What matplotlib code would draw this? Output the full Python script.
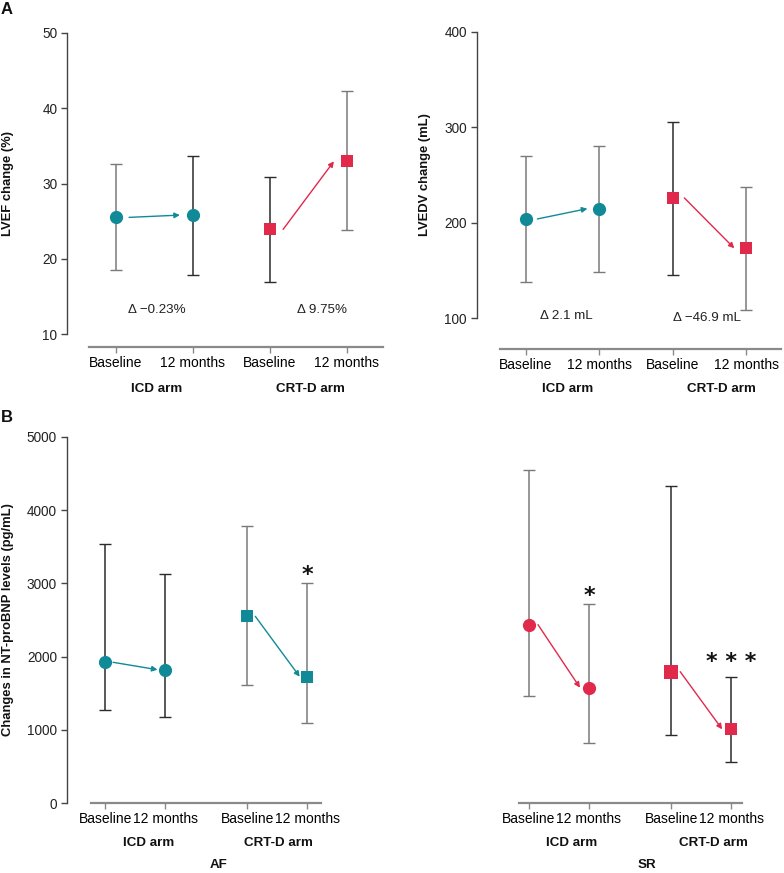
import matplotlib
matplotlib.use("Agg")
import matplotlib.pyplot as plt
from matplotlib.transforms import blended_transform_factory

plt.rcParams['font.family'] = ['Liberation Sans', 'DejaVu Sans']

# ---------------- data ----------------
timepoints = ["Baseline", "12 months", "Baseline", "12 months"]
arms = ["ICD arm", "CRT-D arm"]

lvef_mean = [25.5, 25.8, 23.9, 32.95]
lvef_upper = [32.55, 33.7, 30.8, 42.25]
lvef_lower = [18.5, 17.9, 16.95, 23.8]
lvef_delta = ["\u0394 \u22120.23%", "\u0394 9.75%"]

lvedv_mean = [204, 214.8, 226, 173.3]
lvedv_upper = [270, 280.7, 305.8, 237]
lvedv_lower = [137.7, 148.2, 145.4, 108.8]
lvedv_delta = ["\u0394 2.1 mL", "\u0394 \u221246.9 mL"]

af_mean = [1923, 1822, 2550, 1727]
af_upper = [3536, 3123, 3777, 3000]
af_lower = [1273, 1181, 1609, 1095]
af_sig = ["", "", "", "*"]

sr_mean = [2436, 1577, 1795, 1009]
sr_upper = [4549, 2722, 4327, 1718]
sr_lower = [1459, 822, 936, 559]
sr_sig = ["", "*", "", "* * *"]

# ---------------- style ----------------
TEAL = "#118a97"
RED = "#e0294b"
DARK = "#2b2b2b"
GRAY = "#7a7a7a"
W, H = 784, 873
fig = plt.figure(figsize=(W / 100, H / 100), dpi=100)


def make_ax(x0px, unit, xlim, ylim, ytop_px, ybot_px):
    left_px = x0px + xlim[0] * unit
    right_px = x0px + xlim[1] * unit
    ax = fig.add_axes([left_px / W, 1 - ybot_px / H,
                       (right_px - left_px) / W, (ybot_px - ytop_px) / H])
    ax.set_xlim(*xlim)
    ax.set_ylim(*ylim)
    ax.patch.set_alpha(0)
    for s in ["top", "right"]:
        ax.spines[s].set_visible(False)
    return ax


def draw_panel(ax, pos, mean, upper, lower, colors, markers, bar_colors,
               arrow_off, sizes):
    for i in range(4):
        ax.errorbar(pos[i], mean[i],
                    yerr=[[mean[i] - lower[i]], [upper[i] - mean[i]]],
                    fmt="none", ecolor=bar_colors[i], elinewidth=1.1,
                    capsize=4.2, capthick=1.0, zorder=2)
        ax.plot(pos[i], mean[i], marker=markers[i], color=colors[i],
                markersize=sizes[i], linestyle="none", zorder=3,
                markeredgewidth=0)
    for a, b in [(0, 1), (2, 3)]:
        ax.annotate("", xy=(pos[b] - arrow_off, mean[b]),
                    xytext=(pos[a] + arrow_off, mean[a]),
                    arrowprops=dict(arrowstyle="-|>", color=colors[b],
                                    lw=1.0, mutation_scale=8,
                                    shrinkA=0, shrinkB=0), zorder=4)


def style_axes(ax, pos, yticks, xbounds, outward_px, left=True):
    ax.set_xticks(pos)
    ax.set_xticklabels(timepoints, fontsize=9.5, color="#222222")
    ax.spines["bottom"].set_bounds(*xbounds)
    ax.spines["bottom"].set_position(("outward", outward_px * 0.72))
    ax.spines["bottom"].set_color("#8a8a8a")
    ax.spines["bottom"].set_linewidth(1.6)
    ax.tick_params(axis="x", length=4, width=1.0, color="#8a8a8a", pad=2.5)
    if left:
        ax.set_yticks(yticks)
        ax.set_yticklabels([str(t) for t in yticks], fontsize=9.8,
                           color="#222222")
        ax.spines["left"].set_bounds(yticks[0], yticks[-1])
        ax.spines["left"].set_color("#444444")
        ax.spines["left"].set_linewidth(1.0)
        ax.tick_params(axis="y", length=4.5, width=1.0, color="#444444",
                       pad=2.5)
    else:
        ax.spines["left"].set_visible(False)
        ax.set_yticks([])


def group_labels(ax, xs, ypx):
    tr = blended_transform_factory(ax.transData, fig.transFigure)
    for x, lab in zip(xs, arms):
        ax.text(x, 1 - ypx / H, lab, transform=tr, ha="center", va="center",
                fontsize=9.6, fontweight="bold", color="#111111")


def sig_marks(ax, pos, upper, sig, extra):
    for i, s in enumerate(sig):
        if s:
            ax.text(pos[i], upper[i] + extra[i], s, ha="center",
                    va="center", fontsize=16, fontweight="bold",
                    family="DejaVu Sans", color="#111111")


# ---------------- panel A left: LVEF ----------------
posA = [0, 1, 2, 3]
ax1 = make_ax(116, 77, (-0.636, 3.5), (10, 50), 33, 334)
draw_panel(ax1, posA, lvef_mean, lvef_upper, lvef_lower,
           [TEAL, TEAL, RED, RED], ["o", "o", "s", "s"],
           [GRAY, DARK, DARK, GRAY], 0.17, [9.5, 9.5, 8.5, 8.5])
style_axes(ax1, posA, [10, 20, 30, 40, 50], (-0.35, 3.47), 13)
ax1.text(0.53, 13.2, lvef_delta[0], ha="center", va="center", fontsize=9.6,
         color="#222222")
ax1.text(2.68, 13.2, lvef_delta[1], ha="center", va="center", fontsize=9.6,
         color="#222222")
group_labels(ax1, [0.53, 2.53], 389)

# ---------------- panel A right: LVEDV ----------------
ax2 = make_ax(525.7, 73.45, (-0.667, 3.5), (100, 400), 31.7, 318.3)
draw_panel(ax2, posA, lvedv_mean, lvedv_upper, lvedv_lower,
           [TEAL, TEAL, RED, RED], ["o", "o", "s", "s"],
           [GRAY, GRAY, DARK, GRAY], 0.16, [9.5, 9.5, 8.5, 8.5])
style_axes(ax2, posA, [100, 200, 300, 400], (-0.35, 3.47), 30.7)
ax2.text(0.56, 102.6, lvedv_delta[0], ha="center", va="center", fontsize=9.6,
         color="#222222")
ax2.text(2.47, 100.6, lvedv_delta[1], ha="center", va="center", fontsize=9.6,
         color="#222222")
group_labels(ax2, [0.566, 2.67], 389)

# ---------------- panel B: AF ----------------
posB = [0, 1, 2.37, 3.37]
ax3 = make_ax(105.3, 60, (-0.643, 3.62), (0, 5000), 436.7, 803.3)
draw_panel(ax3, posB, af_mean, af_upper, af_lower,
           [TEAL] * 4, ["o", "o", "s", "s"],
           [DARK, DARK, GRAY, GRAY], 0.13, [9.5, 9.5, 8.5, 8.5])
style_axes(ax3, posB, [0, 1000, 2000, 3000, 4000, 5000], (-0.243, 3.59), 0)
sig_marks(ax3, posB, af_upper, af_sig, [0, 0, 0, 110])
group_labels(ax3, [0.73, 2.89], 842.7)

# ---------------- panel B: SR ----------------
ax4 = make_ax(529, 60, (-0.3, 3.6), (0, 5000), 436.7, 803.3)
draw_panel(ax4, posB, sr_mean, sr_upper, sr_lower,
           [RED] * 4, ["o", "o", "s", "s"],
           [GRAY, GRAY, DARK, DARK], 0.15, [9.5, 9.5, 9.5, 8.5])
style_axes(ax4, posB, [0, 1000, 2000, 3000, 4000, 5000], (-0.162, 3.545), 0,
           left=False)
sig_marks(ax4, posB, sr_upper, sr_sig, [0, 110, 0, 205])
group_labels(ax4, [0.71, 3.07], 842.7)

# ---------------- labels ----------------
fig.text(8 / W, 1 - 183.5 / H, "LVEF change (%)", rotation=90, ha="center",
         va="center", fontsize=9.4, fontweight="bold", color="#111111")
fig.text(425 / W, 1 - 175 / H, "LVEDV change (mL)", rotation=90, ha="center",
         va="center", fontsize=9.4, fontweight="bold", color="#111111")
fig.text(8 / W, 1 - 620 / H, "Changes in NT-proBNP levels (pg/mL)",
         rotation=90, ha="center", va="center", fontsize=9.4,
         fontweight="bold", color="#111111")
fig.text(219 / W, 1 - 865 / H, "AF", ha="center", va="center", fontsize=9.6,
         fontweight="bold", color="#111111")
fig.text(646.7 / W, 1 - 865 / H, "SR", ha="center", va="center", fontsize=9.6,
         fontweight="bold", color="#111111")
fig.text(1 / W, 1 - 10 / H, "A", ha="left", va="center", fontsize=12,
         fontweight="bold", color="#111111")
fig.text(1 / W, 1 - 417 / H, "B", ha="left", va="center", fontsize=12,
         fontweight="bold", color="#111111")

fig.savefig("out.png", dpi=100, facecolor="white")
